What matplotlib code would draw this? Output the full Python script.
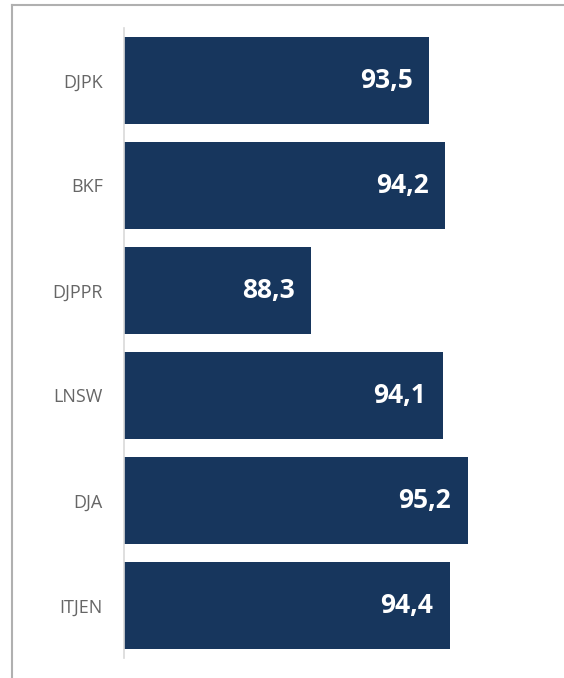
import matplotlib
matplotlib.use("Agg")
import matplotlib.pyplot as plt
from matplotlib.lines import Line2D

categories = ["DJPK", "BKF", "DJPPR", "LNSW", "DJA", "ITJEN"]
values = [93.5, 94.2, 88.3, 94.1, 95.2, 94.4]

bar_color = "#17365D"

fig = plt.figure(figsize=(5.64, 6.78), dpi=100)
W, H = 564, 678

# outer frame (top and left edges visible)
fig.add_artist(Line2D([12 / W, 12 / W], [0, 1 - 5 / H], color="#B0B0B0", lw=1.5))
fig.add_artist(Line2D([12 / W, 1], [1 - 5 / H, 1 - 5 / H], color="#B0B0B0", lw=1.5))

ax = fig.add_axes([123.5 / W, 20 / H, (18 * 22.65) / W, (650 - 20) / H])
ypos = list(range(len(categories)))
ax.barh(ypos, values, height=0.83, color=bar_color, left=0)
ax.set_xlim(80, 98)
ax.set_ylim(len(categories) - 0.5, -0.5)

for y, v in zip(ypos, values):
    ax.annotate(f"{v:.1f}".replace(".", ","), xy=(v, y), xytext=(-12, 0),
                textcoords="offset points", ha="right", va="center",
                color="white", fontsize=19, fontweight="bold", family="Open Sans")

ax.set_yticks(ypos)
ax.set_yticklabels(categories, fontsize=13, color="#666666", family="Open Sans")
ax.tick_params(axis="y", length=0, pad=15)
ax.set_xticks([])
for s in ["top", "right", "bottom"]:
    ax.spines[s].set_visible(False)
ax.spines["left"].set_color("#D9D9D9")
ax.spines["left"].set_linewidth(1.2)

fig.savefig("out.png", dpi=100)
